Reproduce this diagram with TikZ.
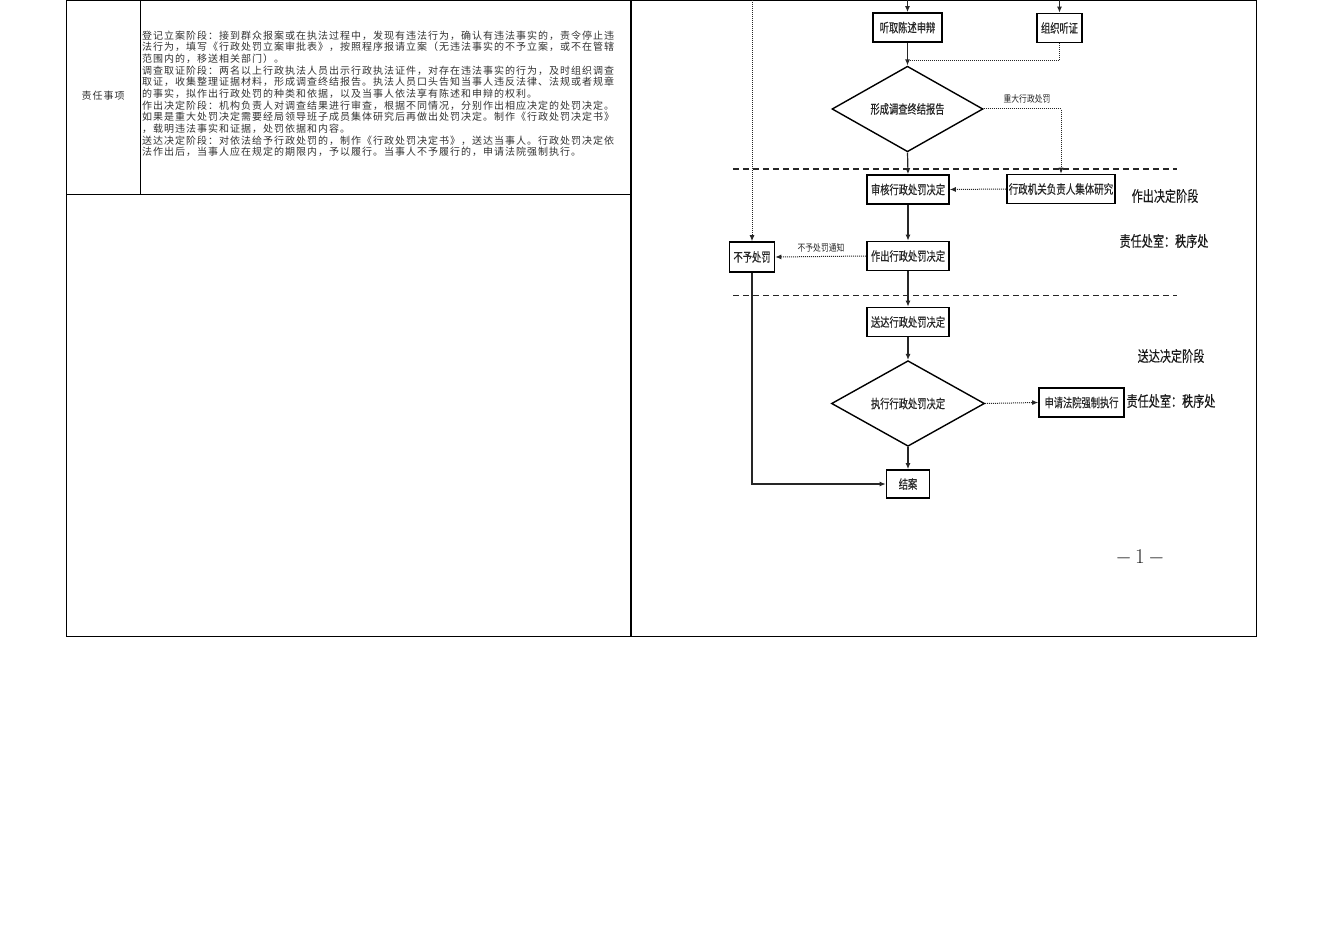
\documentclass[tikz,border=0pt]{standalone}
\usepackage{fontspec}
\usepackage{graphicx}
\usetikzlibrary{arrows.meta,shapes.geometric}
\newfontfamily\cjk{Noto Sans CJK SC}
\newfontfamily\cjkb[FakeBold=0.4]{Noto Sans CJK SC}
\newfontfamily\cjkm[FakeBold=0.2]{Noto Sans CJK SC}
\newfontfamily\cjks[LetterSpace=10]{Noto Sans CJK SC}
\newcommand\nrw[2][0.74]{\scalebox{#1}[1]{#2}}
\tikzset{
  tline/.style={draw=black, line width=0.8pt},
  txt/.style={anchor=west, inner sep=0pt, text=black!80, font=\cjks\fontsize{10}{11}\selectfont},
  box/.style={draw, line width=1.6pt, inner sep=0pt, minimum height=29pt, text=black!85, font=\cjkb\fontsize{12.5}{12.5}\selectfont},
  dia/.style={diamond, draw, line width=1.4pt, inner sep=0pt, text=black!85, font=\cjkb\fontsize{12.5}{12.5}\selectfont},
  arr/.style={line width=1.2pt, draw=black!85, -{Latex[length=6pt,width=5pt]}},
  dots/.style={line width=1pt, draw=black!85, dash pattern=on 1pt off 1pt},
  dotarr/.style={dots, -{Latex[length=6pt,width=5pt]}},
  phase/.style={dash pattern=on 6pt off 4pt, line width=1.5pt, draw=black!85},
  lbl/.style={inner sep=0pt, text=black!85, font=\cjk\fontsize{9.5}{9.5}\selectfont},
  stage/.style={inner sep=0pt, text=black!90, font=\cjkm\fontsize{15}{15}\selectfont}
}
\begin{document}
\begin{tikzpicture}[x=1pt,y=-1pt]
\useasboundingbox (0,0) rectangle (1324,936);
\fill[white] (0,0) rectangle (1324,936);
% table
\draw[tline] (66,0) rectangle (1256,636);
\draw[tline] (140,0) -- (140,194);
\draw[tline] (66,194) -- (630,194);
\draw[line width=1.6pt] (631,0) -- (631,636);
\node[inner sep=0pt, text=black!80, font=\cjks\fontsize{10}{11}\selectfont] (lab) at (103,96) {责任事项};
% left text
\node[txt] (l1) at (142,35.5) {登记立案阶段：接到群众报案或在执法过程中，发现有违法行为，确认有违法事实的，责令停止违};
\node[txt] (l2) at (142,47.2) {法行为，填写《行政处罚立案审批表》，按照程序报请立案（无违法事实的不予立案，或不在管辖};
\node[txt] (l3) at (142,58.8) {范围内的，移送相关部门）。};
\node[txt] (l4) at (142,70.5) {调查取证阶段：两名以上行政执法人员出示行政执法证件，对存在违法事实的行为，及时组织调查};
\node[txt] (l5) at (142,82.1) {取证，收集整理证据材料，形成调查终结报告。执法人员口头告知当事人违反法律、法规或者规章};
\node[txt] (l6) at (142,93.8) {的事实，拟作出行政处罚的种类和依据，以及当事人依法享有陈述和申辩的权利。};
\node[txt] (l7) at (142,105.4) {作出决定阶段：机构负责人对调查结果进行审查，根据不同情况，分别作出相应决定的处罚决定。};
\node[txt] (l8) at (142,117.1) {如果是重大处罚决定需要经局领导班子成员集体研究后再做出处罚决定。制作《行政处罚决定书》};
\node[txt] (l9) at (142,128.7) {，载明违法事实和证据，处罚依据和内容。};
\node[txt] (l10) at (142,140.4) {送达决定阶段：对依法给予行政处罚的，制作《行政处罚决定书》，送达当事人。行政处罚决定依};
\node[txt] (l11) at (142,152) {法作出后，当事人应在规定的期限内，予以履行。当事人不予履行的，申请法院强制执行。};
% flowchart nodes
\node[box, minimum width=69pt] (tq) at (907.5,27.5) {\nrw{听取陈述申辩}};
\node[box, minimum width=45pt] (zz) at (1059.5,28) {\nrw{组织听证}};
\node[dia, minimum width=151pt, minimum height=58pt] (xc) at (907.5,109) {\nrw{形成调查终结报告}};
\node[box, minimum width=82pt] (sh) at (908,189.5) {\nrw{审核行政处罚决定}};
\node[box, minimum width=108pt] (jt) at (1061,189) {\nrw[0.76]{行政机关负责人集体研究}};
\node[box, minimum width=45pt, minimum height=30pt] (by) at (752,257) {\nrw{不予处罚}};
\node[box, minimum width=82pt] (zc) at (908,256) {\nrw{作出行政处罚决定}};
\node[box, minimum width=82pt] (sd) at (908,322) {\nrw{送达行政处罚决定}};
\node[dia, minimum width=153pt, minimum height=57pt] (zx) at (908,403.5) {\nrw{执行行政处罚决定}};
\node[box, minimum width=85pt] (sq) at (1081.5,402.5) {\nrw{申请法院强制执行}};
\node[box, minimum width=43pt, minimum height=28pt] (ja) at (908,484) {\nrw{结案}};
% labels
\node[lbl] (zd) at (1027,99) {\nrw[0.82]{重大行政处罚}};
\node[lbl] (tz) at (821,248) {\nrw[0.82]{不予处罚通知}};
\node[stage] (s1) at (1165,196) {\nrw{作出决定阶段}};
\node[stage] (r1) at (1164,241) {\nrw{责任处室：秩序处}};
\node[stage] (s2) at (1171,356) {\nrw{送达决定阶段}};
\node[stage] (r2) at (1171,401) {\nrw{责任处室：秩序处}};
\node[inner sep=0pt, text=black!85, font=\fontsize{21}{21}\selectfont] (pg) at (1140,557) {$-$\,1\,$-$};
% coordinates
\coordinate (t1) at (907.5,0);
\coordinate (t2) at (1059.5,0);
\coordinate (t3) at (752,0);
\coordinate (m1) at (907.5,61);
\coordinate (d1a) at (733,169);
\coordinate (d1b) at (1177,169);
\coordinate (d2a) at (733,295.5);
\coordinate (d2b) at (1177,295.5);
% phase lines
\draw[phase] (d1a) -- (d1b);
\draw[phase] (d2a) -- (d2b);
% connectors
\draw[arr] (t1) -- (tq.north);
\draw[arr] (t2) -- (zz.north);
\draw[dotarr] (t3) -- (by.north);
\draw[arr] (tq.south) -- (xc.north);
\draw[dots] (zz.south) |- (m1);
\draw[dotarr] (xc.east) -| (jt.north);
\draw[arr] (xc.south) -- (sh.north);
\draw[dotarr] (jt.west) -- (sh.east);
\draw[arr] (sh.south) -- (zc.north);
\draw[dotarr] (zc.west) -- (by.east);
\draw[arr] (zc.south) -- (sd.north);
\draw[arr] (sd.south) -- (zx.north);
\draw[dotarr] (zx.east) -- (sq.west);
\draw[arr] (zx.south) -- (ja.north);
\draw[arr, line width=2pt] (by.south) |- (ja.west);
\end{tikzpicture}
\end{document}
